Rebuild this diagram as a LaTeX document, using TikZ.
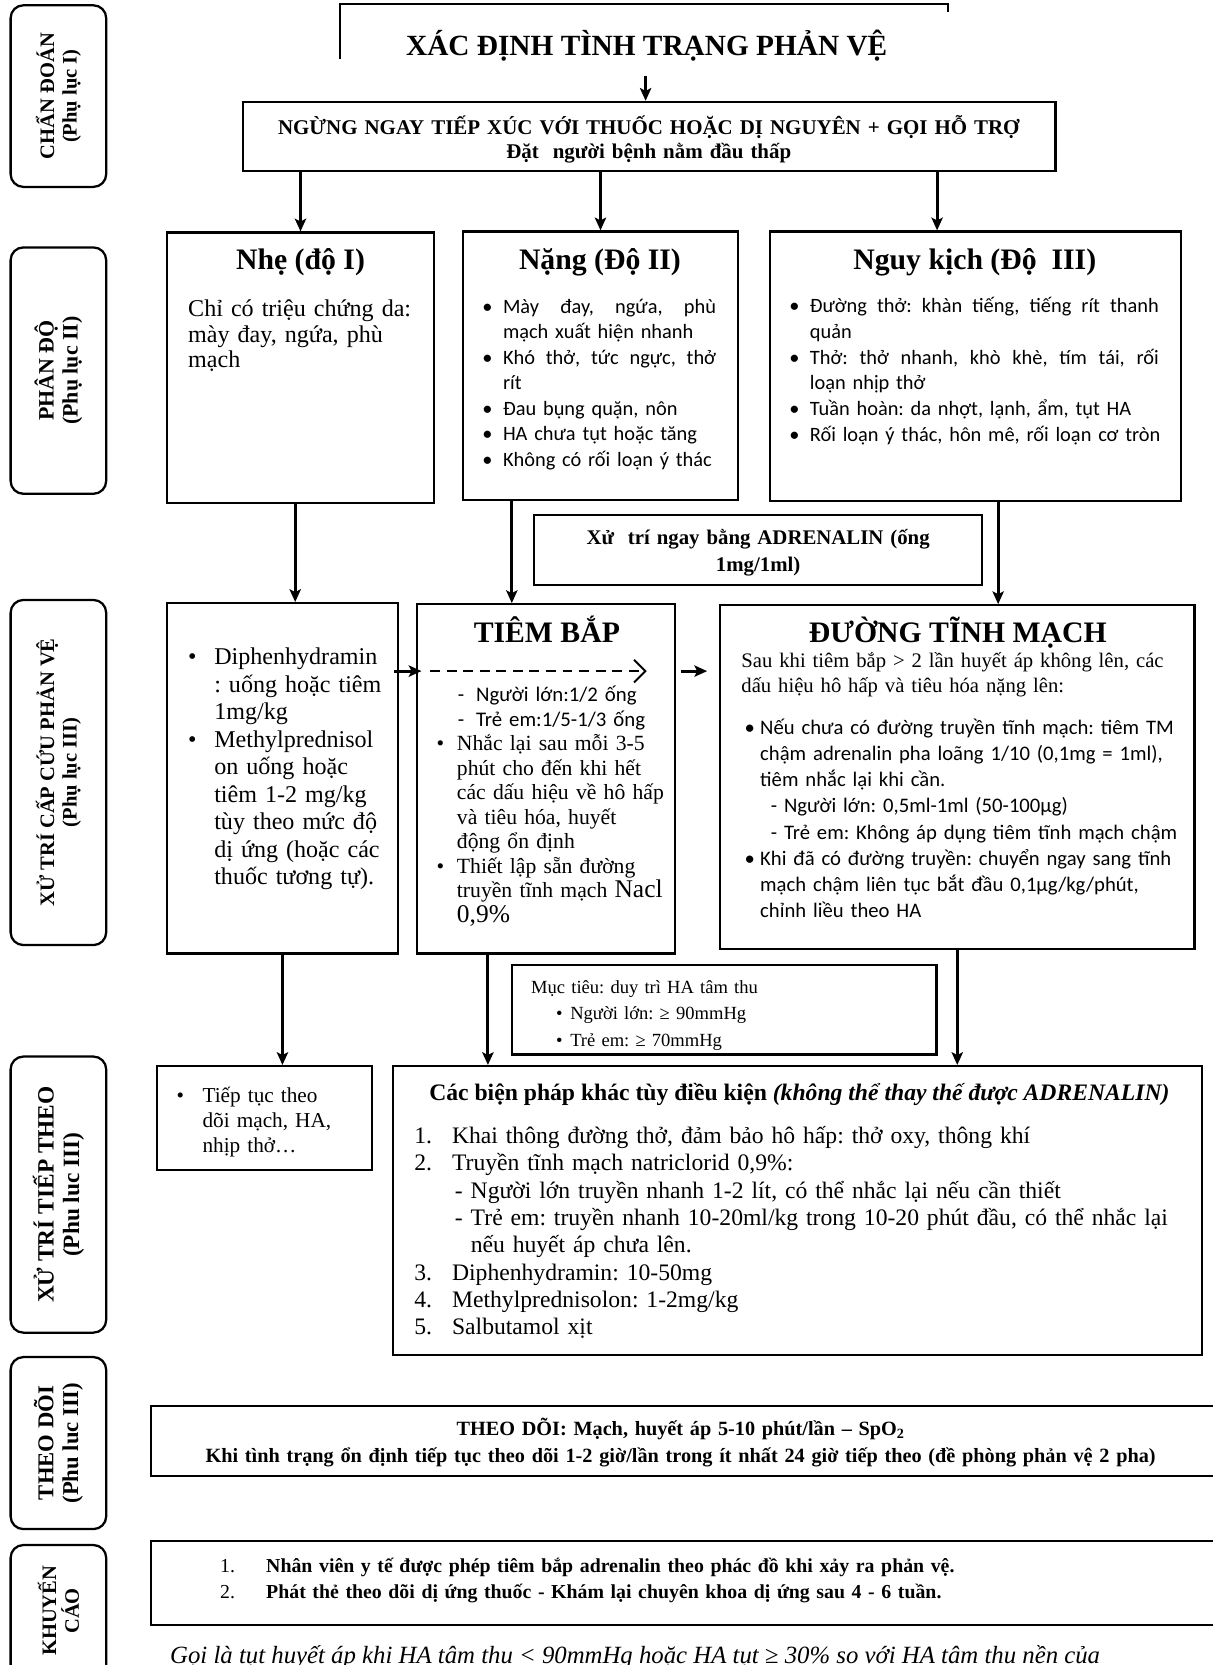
\documentclass[tikz,border=0pt]{standalone}
\usepackage{fontspec}
\setmainfont{Liberation Serif}
\newfontfamily\calfont{Carlito}
\usetikzlibrary{arrows.meta, fit, calc}
\frenchspacing

\newcommand{\fsz}[2]{\fontsize{#1}{#2}\selectfont}
% list line with hanging indent
\newcommand{\hitem}[3]{\noindent\hangindent=#1\hangafter=1\makebox[#1][l]{#2}#3\par}
% justified line
\newcommand{\jl}[2]{\hbox to #1{#2}}

\begin{document}
\begin{tikzpicture}[x = 0.75pt, y = -0.75pt,
	box/.style = {draw, line width = 1.6pt, inner sep = 0pt},
	sidebox/.style = {draw, line width = 1.6pt, rounded corners = 9pt, inner sep = 0pt},
	sidetxt/.style = {rotate = 90, align = center, inner sep = 0pt, font = \bfseries\fsz{14.5}{16}},
	ttl/.style = {anchor = base, inner sep = 0pt, font = \bfseries\fsz{21}{24}},
	txt/.style = {anchor = base west, inner sep = 0pt},
	arr/.style = {-{Stealth[length = 9pt, width = 8pt, inset = 2pt]}, line width = 2.2pt},
	dasharr/.style = {-{Straight Barb[length = 8pt, width = 16pt]}, line width = 1.3pt, dash pattern = on 7pt off 4.7pt}]
	
	%	page
	\useasboundingbox (0, 0) rectangle (1142, 1568);
	
	%	side column
	\node[sidebox, fit = {(10, 5) (100, 176)}] (s1) {};
	\node[sidetxt] (s1t) at (s1.center) {CHẨN ĐOÁN\\(Phụ lục I)};
	\node[sidebox, fit = {(10, 233) (100, 465)}] (s2) {};
	\node[sidetxt, font = \bfseries\fsz{15.5}{17}] (s2t) at (s2.center) {PHÂN ĐỘ\\(Phụ lục II)};
	\node[sidebox, fit = {(10, 565) (100, 890)}] (s3) {};
	\node[sidetxt] (s3t) at (s3.center) {XỬ TRÍ CẤP CỨU PHẢN VỆ\\(Phụ lục III)};
	\node[sidebox, fit = {(10, 995) (100, 1255)}] (s4) {};
	\node[sidetxt, font = \bfseries\fsz{16.5}{18}] (s4t) at (s4.center) {XỬ TRÍ TIẾP THEO\\(Phu luc III)};
	\node[sidebox, fit = {(10, 1278) (100, 1440)}] (s5) {};
	\node[sidetxt, font = \bfseries\fsz{16}{17.5}] (s5t) at (s5.center) {THEO DÕI\\(Phu luc III)};
	\node[sidebox, fit = {(10, 1455) (100, 1610)}] (s6) {};
	\node[sidetxt] (s6t) at (55, 1517) {KHUYẾN\\CÁO};
	
	%	title
	\draw[line width = 1.6pt] (320, 56) |- (893, 4) -- (893, 11);
	\node[ttl, font = \bfseries\fsz{20.7}{24}] (xacdinh) at (609, 52) {XÁC ĐỊNH TÌNH TRẠNG PHẢN VỆ};
	\node[box, fit = {(229, 96) (994, 161)}] (ngung) {};
	\node[txt, anchor = base, text width = 560pt, align = center, font = \bfseries\fsz{14.8}{16.5}] (ngungT) at (611, 127) {NGỪNG NGAY TIẾP XÚC VỚI THUỐC HOẶC DỊ NGUYÊN + GỌI HỖ TRỢ\\Đặt\ \ người bệnh nằm đầu thấp};
	
	%	severity
	\node[box, fit = {(157, 219) (409, 474)}] (nhe) {};
	\node[box, fit = {(436, 218) (695, 471)}] (nang) {};
	\node[box, fit = {(725, 218) (1112, 472)}] (nguy) {};
	\node[ttl] (nheT) at (283, 254) {Nhẹ (độ I)};
	\node[ttl] (nangT) at (565, 254) {Nặng (Độ II)};
	\node[ttl] (nguyT) at (918, 254) {Nguy kịch (Độ\ \ III)};
	\node[txt, text width = 170pt, font = \fsz{17}{18.2}] (nheB) at (177, 298) {Chỉ có triệu chứng da:\\mày đay, ngứa, phù\\mạch};
	\node[txt, text width = 200pt, font = \calfont\fsz{14.4}{18}] (nangB) at (454, 295) {%
		\hitem{14.6pt}{•}{\jl{150.4pt}{Mày \hfill đay, \hfill ngứa, \hfill phù}\newline mạch xuất hiện nhanh}
		\hitem{14.6pt}{•}{\jl{150.4pt}{Khó \hfill thở, \hfill tức \hfill ngực, \hfill thở}\newline rít}
		\hitem{14.6pt}{•}{Đau bụng quặn, nôn}
		\hitem{14.6pt}{•}{HA chưa tụt hoặc tăng}
		\hitem{14.6pt}{•}{Không có rối loạn ý thác}};
	\node[txt, text width = 300pt, font = \calfont\fsz{14.4}{18.3}] (nguyB) at (743, 294) {%
		\hitem{14.6pt}{•}{\jl{246.4pt}{Đường \hfill thở: \hfill khàn \hfill tiếng, \hfill tiếng \hfill rít \hfill thanh}\newline quản}
		\hitem{14.6pt}{•}{\jl{246.4pt}{Thở: \hfill thở \hfill nhanh, \hfill khò \hfill khè, \hfill tím \hfill tái, \hfill rối}\newline loạn nhịp thở}
		\hitem{14.6pt}{•}{Tuần hoàn: da nhợt, lạnh, ẩm, tụt HA}
		\hitem{14.6pt}{•}{Rối loạn ý thác, hôn mê, rối loạn cơ tròn}};
	\node[box, fit = {(503, 485) (925, 551)}] (adr) {};
	\node[txt, anchor = base, text width = 300pt, align = center, font = \bfseries\fsz{14.7}{18.8}] (adrT) at (714, 513) {Xử\ \ trí ngay bằng ADRENALIN (ống\\1mg/1ml)};
	
	%	emergency treatment
	\node[box, fit = {(157, 568) (375, 898)}] (diphen) {};
	\node[box, fit = {(393, 569) (636, 898)}] (tiem) {};
	\node[box, fit = {(678, 570) (1125, 894)}] (tinhmach) {};
	\node[txt, text width = 160pt, font = \fsz{17}{19.4}] (diphenB) at (177, 626) {%
		\hitem{18.4pt}{•}{Diphenhydramin\newline: uống hoặc tiêm\newline 1mg/kg}
		\hitem{18.4pt}{•}{Methylprednisol\newline on uống hoặc\newline tiêm 1-2 mg/kg\newline tùy theo mức độ\newline dị ứng (hoặc các\newline thuốc tương tự).}};
	\node[ttl] (tiemT) at (515, 605) {TIÊM BẮP};
	\node[txt, text width = 170pt, font = \calfont\fsz{14.7}{17.2}] (tiemA) at (431, 661) {\makebox[12.8pt][l]{-}Người lớn:1/2 ống\\\makebox[12.8pt][l]{-}Trẻ em:1/5-1/3 ống};
	\node[txt, text width = 170pt, font = \fsz{15.3}{17.3}] (tiemB) at (411, 707) {%
		\hitem{14.3pt}{•}{Nhắc lại sau mỗi 3-5\newline phút cho đến khi hết\newline các dấu hiệu về hô hấp\newline và tiêu hóa, huyết\newline động ổn định}
		\hitem{14.3pt}{•}{Thiết lập sẵn đường\newline truyền tĩnh mạch {\fsz{18}{18}Nacl}\newline {\fsz{18}{18}0,9\%}}};
	\node[ttl] (tmT) at (902, 605) {ĐƯỜNG TĨNH MẠCH};
	\node[txt, text width = 330pt, font = \fsz{14.6}{17.3}] (tmA) at (698, 629) {Sau khi tiêm bắp > 2 lần huyết áp không lên, các\\dấu hiệu hô hấp và tiêu hóa nặng lên:};
	\node[txt, text width = 330pt, font = \calfont\fsz{14.6}{18.4}] (tmB) at (701, 692) {%
		\hitem{11pt}{•}{Nếu chưa có đường truyền tĩnh mạch: tiêm TM\newline chậm adrenalin pha loãng 1/10 (0,1mg = 1ml),\newline tiêm nhắc lại khi cần.\newline \hspace*{7.5pt}- Người lớn: 0,5ml-1ml (50-100µg)\newline \hspace*{7.5pt}- Trẻ em: Không áp dụng tiêm tĩnh mạch chậm}
		\hitem{11pt}{•}{Khi đã có đường truyền: chuyển ngay sang tĩnh\newline mạch chậm liên tục bắt đầu 0,1µg/kg/phút,\newline chỉnh liều theo HA}};
	\node[box, fit = {(482, 909) (882, 993)}] (muctieu) {};
	\node[txt, text width = 280pt, font = \fsz{13.1}{18.4}] (muctieuT) at (500, 936) {Mục tiêu: duy trì HA tâm thu\\\hspace*{17.6pt}\makebox[10pt][l]{•}Người lớn: ≥ 90mmHg\\\hspace*{17.6pt}\makebox[10pt][l]{•}Trẻ em: ≥ 70mmHg};
	
	%	next steps
	\node[box, fit = {(148, 1004) (350, 1102)}] (tieptuc) {};
	\node[txt, text width = 140pt, font = \fsz{15}{17.6}] (tieptucT) at (166, 1038) {\hitem{18.4pt}{•}{Tiếp tục theo\newline dõi mạch, HA,\newline nhịp thở…}};
	\node[box, fit = {(370, 1004) (1132, 1276)}] (bienphap) {};
	\node[txt, font = \bfseries\fsz{16.7}{19}] (bpT) at (404, 1036) {Các biện pháp khác tùy điều kiện \textit{(không thể thay thế được ADRENALIN)}};
	\node[txt, text width = 545pt, font = \fsz{16.7}{19.3}] (bpB) at (390, 1077) {%
		\hitem{26.6pt}{1.}{Khai thông đường thở, đảm bảo hô hấp: thở oxy, thông khí}
		\hitem{26.6pt}{2.}{Truyền tĩnh mạch natriclorid 0,9\%:}
		\hitem{39.8pt}{\hspace{28.5pt}-}{Người lớn truyền nhanh 1-2 lít, có thể nhắc lại nếu cần thiết}
		\hitem{39.8pt}{\hspace{28.5pt}-}{Trẻ em: truyền nhanh 10-20ml/kg trong 10-20 phút đầu, có thể nhắc lại\newline nếu huyết áp chưa lên.}
		\hitem{26.6pt}{3.}{Diphenhydramin: 10-50mg}
		\hitem{26.6pt}{4.}{Methylprednisolon: 1-2mg/kg}
		\hitem{26.6pt}{5.}{Salbutamol xịt}};
	
	%	monitoring
	\node[box, fit = {(142, 1324) (1150, 1390)}] (theodoi) {};
	\node[txt, anchor = base, text width = 740pt, align = center, font = \bfseries\fsz{14.3}{18.8}] (theodoiT) at (641, 1352) {THEO DÕI: Mạch, huyết áp 5-10 phút/lần – SpO\textsubscript{2}\\Khi tình trạng ổn định tiếp tục theo dõi 1-2 giờ/lần trong ít nhất 24 giờ tiếp theo (đề phòng phản vệ 2 pha)};
	\node[box, fit = {(142, 1451) (1150, 1530)}] (khuyen) {};
	\node[txt, text width = 700pt, font = \fsz{14}{18.4}] (khuyenT) at (207, 1481) {%
		\hitem{32.6pt}{1.}{\textbf{Nhân viên y tế được phép tiêm bắp adrenalin theo phác đồ khi xảy ra phản vệ.}}
		\hitem{32.6pt}{2.}{\textbf{Phát thẻ theo dõi dị ứng thuốc - Khám lại chuyên khoa dị ứng sau 4 - 6 tuần.}}};
	\node[txt, font = \itshape\fsz{17.5}{20}] (note) at (160, 1567) {Gọi là tụt huyết áp khi HA tâm thu < 90mmHg hoặc HA tụt ≥ 30\% so với HA tâm thu nền của};
	
	%	arrows
	\coordinate (xacOut) at (608, 72);
	\draw[arr] (xacOut) -- (xacOut |- ngung.north);
	\draw[arr] (ngung.south -| nhe.north) -- (nhe.north);
	\draw[arr] (ngung.south -| nang.north) -- (nang.north);
	\coordinate (nguyIn) at ($(nguy.north) + (-36, 0)$);
	\draw[arr] (ngung.south -| nguyIn) -- (nguyIn);
	\coordinate (diphenIn) at ($(diphen.north) + (12, 0)$);
	\draw[arr] (nhe.south -| diphenIn) -- (diphenIn);
	\coordinate (tiemIn) at ($(tiem.north) + (-32.5, 0)$);
	\draw[arr] (nang.south -| tiemIn) -- (tiemIn);
	\coordinate (tmIn) at ($(tinhmach.north) + (38.5, 0)$);
	\draw[arr] (nguy.south -| tmIn) -- (tmIn);
	\draw[arr] (diphen.south) -- (diphen.south |- tieptuc.north);
	\coordinate (tiemOut) at ($(tiem.south) + (-55, 0)$);
	\draw[arr] (tiemOut) -- (tiemOut |- bienphap.north);
	\draw[arr] (tinhmach.south) -- (tinhmach.south |- bienphap.north);
	
	%	dashed arrow
	\coordinate (dashS) at (405, 632);
	\coordinate (dashE) at (609, 632);
	\draw[arr] ($(diphen.east |- dashS) + (-5, 0)$) -- ($(tiem.west |- dashS) + (5, 0)$);
	\draw[dasharr] (dashS) -- (dashE);
	\draw[arr] ($(tiem.east |- dashS) + (4, 0)$) -- ($(tinhmach.west |- dashS) + (-11, 0)$);
\end{tikzpicture}
\end{document}
